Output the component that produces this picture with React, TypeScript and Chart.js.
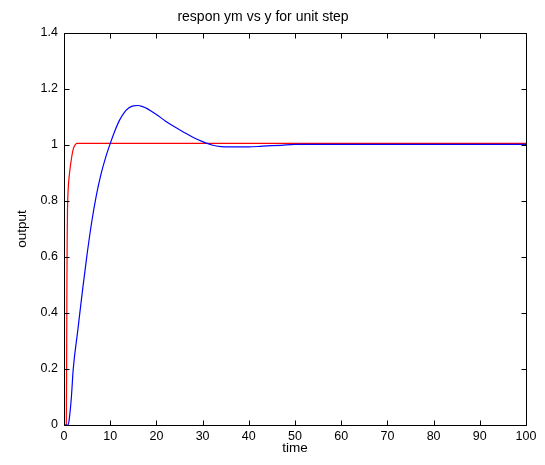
import React, { useEffect, useRef } from 'react';
import { Chart, registerables } from 'chart.js';
Chart.register(...registerables);

const titleText = 'respon ym vs y for unit step';
const xLabel = 'time';
const yLabel = 'output';

const xTicks = [0, 10, 20, 30, 40, 50, 60, 70, 80, 90, 100];
const yTicks = [0, 0.2, 0.4, 0.6, 0.8, 1, 1.2, 1.4];

const redT = [0, 0.5, 0.58, 0.63, 0.68, 0.75, 0.9, 1.2, 1.6, 2.0, 2.4, 2.8, 100];
const redY = [0, 0, 0.3, 0.5, 0.65, 0.76, 0.84, 0.9, 0.95, 0.985, 1.0, 1.006, 1.006];

const blueT = [0, 0.9, 1.2, 1.6, 2, 3, 4, 5, 6, 7, 8, 9, 10, 11, 12, 13, 14, 15, 16, 17, 18, 19, 20, 22, 24, 26, 28, 30, 32, 34, 36, 40, 43, 47, 50, 100];
const blueY = [0, 0, 0.03, 0.1, 0.2, 0.34, 0.48, 0.61, 0.725, 0.82, 0.895, 0.955, 1.005, 1.05, 1.088, 1.115, 1.132, 1.14, 1.141, 1.137, 1.13, 1.12, 1.109, 1.085, 1.064, 1.045, 1.027, 1.012, 1.0, 0.994, 0.993, 0.993, 0.996, 0.999, 1.002, 1.002];

const FONT = "'Liberation Sans', Arial, sans-serif";

const boxPlugin = {
  id: 'matlabBox',
  afterDatasetsDraw(chart: any) {
    const { ctx, chartArea: a, scales } = chart;
    const L = Math.round(a.left) + 0.5;
    const R = Math.round(a.right) + 0.5;
    const T = Math.round(a.top) + 0.5;
    const B = Math.round(a.bottom) + 0.5;
    ctx.save();
    ctx.strokeStyle = '#000';
    ctx.lineWidth = 1;
    ctx.beginPath();
    ctx.rect(L, T, R - L, B - T);
    const tl = 5;
    for (const v of xTicks) {
      const x = Math.round(scales.x.getPixelForValue(v)) + 0.5;
      ctx.moveTo(x, B); ctx.lineTo(x, B - tl);
      ctx.moveTo(x, T); ctx.lineTo(x, T + tl);
    }
    for (const v of yTicks) {
      const y = Math.round(scales.y.getPixelForValue(v)) + 0.5;
      ctx.moveTo(L, y); ctx.lineTo(L + tl, y);
      ctx.moveTo(R, y); ctx.lineTo(R - tl, y);
    }
    ctx.stroke();
    ctx.restore();
  },
};

export default function App() {
  const ref = useRef<HTMLCanvasElement>(null);
  useEffect(() => {
    if (!ref.current) return;
    const chart = new Chart(ref.current, {
      type: 'line',
      data: {
        datasets: [
          {
            label: 'y',
            data: blueT.map((t, i) => ({ x: t, y: blueY[i] })),
            borderColor: 'rgb(0,0,255)',
            borderWidth: 1.2,
            pointRadius: 0,
            cubicInterpolationMode: 'monotone',
          },
          {
            label: 'ym',
            data: redT.map((t, i) => ({ x: t, y: redY[i] })),
            borderColor: 'rgb(255,0,0)',
            borderWidth: 1.2,
            pointRadius: 0,
            cubicInterpolationMode: 'monotone',
          },
        ],
      },
      options: {
        animation: false,
        responsive: false,
        layout: { padding: { top: 0, right: 19, bottom: 0, left: 0 } },
        plugins: {
          legend: { display: false },
          tooltip: { enabled: false },
          title: {
            display: true,
            text: titleText,
            color: '#000',
            font: { family: FONT, size: 14, weight: 'normal' },
            padding: { top: 9.1, bottom: 7.1 },
          },
        },
        scales: {
          x: {
            type: 'linear',
            min: 0,
            max: 100,
            afterBuildTicks: (s: any) => { s.ticks = xTicks.map((v) => ({ value: v })); },
            afterFit: (s: any) => { s.height = 40; },
            ticks: { color: '#000', font: { family: FONT, size: 12.5 }, padding: 4, maxRotation: 0, callback: (v: any) => String(v) },
            grid: { display: false, drawTicks: false },
            border: { display: false },
            title: { display: true, text: xLabel, color: '#000', font: { family: FONT, size: 13.5 }, padding: { top: 0, bottom: 9 } },
          },
          y: {
            type: 'linear',
            min: 0,
            max: 1.4,
            afterBuildTicks: (s: any) => { s.ticks = yTicks.map((v) => ({ value: v })); },
            afterFit: (s: any) => { s.width = 64; },
            ticks: { color: '#000', font: { family: FONT, size: 12.5 }, padding: 6, callback: (v: any) => String(Math.round(v * 10) / 10) },
            grid: { display: false, drawTicks: false },
            border: { display: false },
            title: { display: true, text: yLabel, color: '#000', font: { family: FONT, size: 13.5 }, padding: { top: 14, bottom: 0 } },
          },
        },
      },
      plugins: [boxPlugin],
    } as any);
    return () => chart.destroy();
  }, []);
  return (
    <div style={{ position: 'absolute', left: 0, top: 0, width: 545, height: 465, background: '#fff' }}>
      <canvas ref={ref} width={545} height={465} />
    </div>
  );
}
